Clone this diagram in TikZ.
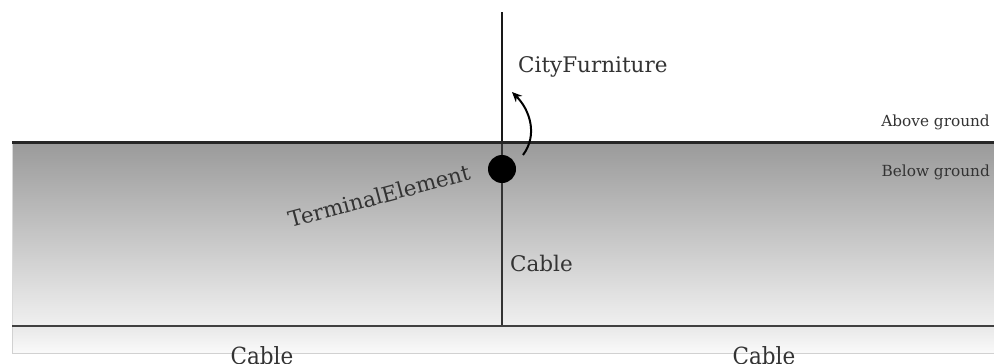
\documentclass[tikz,border=0pt]{standalone}
\usepackage{fontspec}
\setmainfont{DejaVu Serif}
\usetikzlibrary{arrows.meta}
\definecolor{txt}{HTML}{333333}
\definecolor{gtop}{HTML}{9A9A9A}
\definecolor{gbot}{HTML}{F0F0F0}
\tikzset{
  lbl/.style={text=txt, inner sep=0pt, font=\fontsize{21.5}{24}\selectfont},
  small/.style={text=txt, inner sep=0pt, font=\fontsize{15.3}{17}\selectfont},
  groundline/.style={draw=black!85, line width=3pt},
}
\begin{document}
\begin{tikzpicture}[x=1pt,y=-1pt]
\useasboundingbox (0,0) rectangle (994,364);
\begin{scope}
\clip (0,0) rectangle (994,364);
% below ground shaded area
\shade[top color=gtop, bottom color=gbot] (12,142) rectangle (994,326);
% bottom strip
\shade[top color=black!9, bottom color=black!2] (12,326) rectangle (994,353);
\draw[black!18, line width=0.8pt] (12,326) -- (12,353) -- (994,353);
\draw[black!15, line width=0.8pt] (12,142) -- (12,326);
% lines
\coordinate (top) at (502,12);
\coordinate (gnd) at (502,142);
\coordinate (base) at (502,326);
\coordinate (gl) at (12,142);
\coordinate (gr) at (994,142);
\coordinate (bl) at (12,326);
\coordinate (br) at (994,326);
\draw[black!90, line width=2pt] (top) -- (gnd);
\draw[black!80, line width=1.3pt] (gnd) -- (base);
\draw[groundline] (gl) -- (gr);
\draw[black!75, line width=2pt] (bl) -- (br);
% terminal element
\node[circle, fill=black, minimum size=28pt, inner sep=0pt] (dot) at (502,169) {};
\coordinate (as) at (523,155);
\coordinate (ae) at (512,92);
\draw[line width=2pt, -{Stealth[length=10pt,width=9pt]}] (as) .. controls (538,135) and (530,110) .. (ae);
% labels
\node[lbl, anchor=west] (cf) at (518,67) {CityFurniture};
\node[small, anchor=east] (ag) at (990,122) {Above ground};
\node[small, anchor=east] (bg) at (990,172) {Below ground};
\node[lbl, rotate=15] (te) at (379,196) {TerminalElement};
\node[lbl, anchor=west] (c1) at (510,263) {Cable};
\node[lbl, yscale=1.1] (c2) at (262,356) {Cable};
\node[lbl, yscale=1.1] (c3) at (764,356) {Cable};
\end{scope}
\end{tikzpicture}
\end{document}
